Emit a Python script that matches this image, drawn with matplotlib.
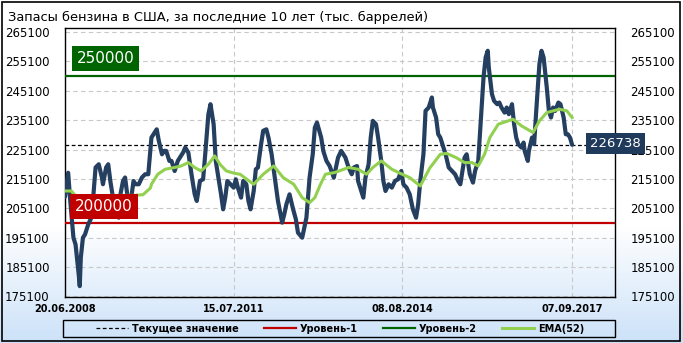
import numpy as np
import matplotlib; matplotlib.use('Agg')
import matplotlib.pyplot as plt
from matplotlib.patches import Rectangle

# ── data (weekly index from 20.06.2008, thousand barrels) ──
start = np.datetime64('2008-06-20')
weeks = [0, 3, 5, 8, 10, 13, 14, 15, 17, 19, 22, 25, 27, 29, 32, 35, 36, 39, 41, 43,
         46, 48, 51, 52, 55, 57, 59, 62, 65, 67, 70, 73, 76, 79, 82, 87, 89, 92, 94, 96,
         99, 101, 104, 107, 110, 112, 114, 117, 120, 123, 125, 128, 131, 133, 136, 138, 141, 143, 145, 148,
         150, 152, 154, 157, 160, 162, 164, 167, 169, 172, 174, 176, 179, 181, 183, 186, 188, 191, 193, 196,
         199, 202, 206, 208, 210, 213, 216, 219, 221, 225, 227, 229, 232, 235, 237, 239, 243, 245, 248, 251,
         255, 257, 259, 262, 264, 266, 269, 272, 274, 277, 278, 281, 283, 285, 288, 290, 292, 295, 297, 300,
         302, 304, 307, 310, 313, 316, 319, 321, 324, 327, 330, 333, 335, 337, 340, 342, 345, 348, 349, 352,
         354, 356, 359, 361, 364, 367, 370, 373, 375, 377, 379, 381, 384, 387, 389, 392, 394, 397, 399, 401,
         402, 405, 407, 410, 412, 414, 417, 419, 421, 424, 426, 428, 430, 433, 435, 436, 439, 440, 443, 445,
         447, 450, 452, 454, 457, 459, 461, 463, 465, 468, 470, 473, 475, 477, 479, 481]
stocks = [209000, 217200, 207600, 195100, 192800, 182600, 178600, 188300, 195100, 196200,
          199600, 201900, 209900, 219000, 220100, 215600, 213300, 219000, 220100, 214400,
          207600, 206500, 201900, 208700, 214400, 215600, 209900, 206500, 214400, 213300,
          213300, 215600, 216700, 216700, 229200, 232000, 228050, 223500, 224650, 224650,
          221240, 221240, 217800, 221240, 222940, 224080, 225780, 224080, 216700, 209900,
          207600, 214400, 215000, 223500, 237100, 240550, 233700, 221240, 216700, 209900,
          204760, 208740, 214400, 213280, 212140, 215000, 212140, 208740, 214400, 213300,
          207600, 204760, 211000, 218400, 219000, 226900, 231500, 232000, 229200, 223500,
          215600, 207600, 200200, 203050, 206460, 209870, 205330, 201350, 196800, 195100,
          198500, 201900, 215600, 223500, 232600, 234300, 229200, 224650, 221240, 219530,
          215550, 219000, 222370, 224650, 223500, 222370, 219000, 216700, 219000, 219500,
          214400, 211000, 208740, 215550, 220100, 229200, 234870, 233740, 229200, 221240,
          214400, 211000, 213280, 212140, 214400, 215000, 217800, 213280, 212140, 209870,
          204760, 201900, 206460, 214400, 223500, 238280, 239420, 242830, 239420, 236010,
          230330, 229200, 225780, 223500, 219000, 217830, 216700, 214400, 213280, 217830,
          222370, 223500, 216700, 213850, 217830, 221240, 232600, 249650, 256460, 258740,
          253060, 243970, 241690, 240550, 241120, 239420, 237700, 239420, 237150, 240550,
          233740, 229200, 226920, 225780, 227490, 224650, 221240, 224650, 229200, 226920,
          238280, 254190, 258740, 256460, 246240, 238280, 236010, 239420, 238280, 241120,
          240550, 236010, 230330, 230330, 229200, 226738]

ema_weeks = [0, 6, 11, 43, 65, 74, 81, 82, 88, 95, 104, 110, 117, 123, 129, 136, 142, 147, 153, 161,
             166, 179, 188, 198, 207, 217, 225, 232, 237, 242, 247, 256, 269, 278, 286, 292, 300, 310, 318, 327,
             337, 346, 356, 362, 371, 379, 386, 392, 398, 403, 411, 425, 433, 444, 450, 457, 469, 476, 481]
ema_vals = [211000, 211000, 209000, 209500, 209500, 209740, 212000, 213280, 216700, 218400,
            219000, 219500, 220670, 219000, 217830, 220100, 222940, 220100, 217830, 217000,
            216700, 213280, 216700, 219530, 215550, 213280, 208740, 207030, 208740, 213000,
            216700, 217300, 219000, 218400, 216700, 219000, 221240, 218400, 217000, 215550,
            212710, 218800, 223500, 223800, 222370, 220670, 220670, 219530, 223500, 229200,
            233740, 235440, 233170, 230900, 234870, 237700, 238840, 238300, 236010]

level_1 = 200000
level_2 = 250000
current = 226738
yticks = list(range(175100, 265101, 10000))
xtick_labels = ['20.06.2008', '15.07.2011', '08.08.2014', '07.09.2017']

dates = start + np.array(weeks) * np.timedelta64(7, 'D')
ema_dates = start + np.array(ema_weeks) * np.timedelta64(7, 'D')
xtick_dates = [np.datetime64('-'.join(s.split('.')[::-1])) for s in xtick_labels]

W, H = 683, 343
fig = plt.figure(figsize=(W / 100, H / 100), dpi=100)

# background gradient (white -> light blue towards the bottom)
bg = fig.add_axes([0, 0, 1, 1], zorder=-10)
rows = np.linspace(0, 1, H)
t = np.clip((rows - 0.66) / 0.34, 0, 1)[:, None]
top_c = np.array([1.0, 1.0, 1.0])
bot_c = np.array([0.80, 0.885, 0.975])
grad = (top_c * (1 - t) + bot_c * t)[:, None, :].repeat(2, axis=1)
bg.imshow(grad, aspect='auto', extent=[0, 1, 0, 1], origin='upper')
bg.add_patch(Rectangle((0.003, 0.006), 0.993, 0.988, fill=False, ec='black', lw=1.2,
                       transform=bg.transAxes))
# legend frame
bg.add_patch(Rectangle((63 / W, 1 - 337 / H), 552 / W, 17 / H, fill=False, ec='black', lw=1.0,
                       transform=bg.transAxes))
bg.set_xlim(0, 1); bg.set_ylim(0, 1)
bg.axis('off')

ax = fig.add_axes([65 / W, 1 - 297 / H, 550 / W, 269 / H])
ax.patch.set_alpha(0)

ax.plot(dates, stocks, color='#243f60', lw=3.0, solid_capstyle='round', solid_joinstyle='round', zorder=4)
ax.plot(ema_dates, ema_vals, color='#92d050', lw=2.2, zorder=5, label='EMA(52)')
ax.axhline(current, color='black', lw=0.9, ls=(0, (3, 2)), zorder=3, label='Текущее значение')
ax.axhline(level_1, color='#c00000', lw=1.6, zorder=3, label='Уровень-1')
ax.axhline(level_2, color='#006400', lw=1.6, zorder=3, label='Уровень-2')

ax.set_xlim(np.datetime64('2008-06-20'), np.datetime64('2018-06-20'))
ax.set_ylim(174900, 266500)
ax.set_yticks(yticks)
ax.set_xticks(xtick_dates)
ax.set_xticklabels(xtick_labels, fontsize=7, fontweight='bold')
ax.tick_params(axis='x', length=0, pad=5)
ax.tick_params(axis='y', length=0, pad=11, labelsize=8.5, labelright=True, labelleft=True)
ax.grid(True, color='#c8c8c8', ls=(0, (4, 3)), lw=0.8)
for s in ax.spines.values():
    s.set_color('black'); s.set_linewidth(1.0)

# level labels
ax.text(0.021, level_2 + 6000, f'{level_2}', transform=ax.get_yaxis_transform(), fontsize=11,
        color='white', va='center', ha='left', zorder=6,
        bbox=dict(boxstyle='square,pad=0.32', fc='#006400', ec='none'))
ax.text(0.018, level_1 + 5650, f'{level_1}', transform=ax.get_yaxis_transform(), fontsize=11,
        color='white', va='center', ha='left', zorder=6,
        bbox=dict(boxstyle='square,pad=0.32', fc='#c00000', ec='none'))
ax.text(0.955, current + 300, f'{current}', transform=ax.get_yaxis_transform(), fontsize=9.5,
        color='white', va='center', ha='left', zorder=10, clip_on=False,
        bbox=dict(boxstyle='square,pad=0.3', fc='#1f3a5a', ec='none'))

h, l = ax.get_legend_handles_labels()
order = [l.index(n) for n in ['Текущее значение', 'Уровень-1', 'Уровень-2', 'EMA(52)']]
leg = ax.legend([h[i] for i in order], [l[i] for i in order], ncol=4, loc='center',
                bbox_to_anchor=(0.5, -0.1175), prop={'size': 7, 'weight': 'bold'},
                frameon=False, handlelength=3.3, handletextpad=0.4, columnspacing=2.6,
                borderpad=0, borderaxespad=0)

fig.text(8 / W, 1 - 17 / H, 'Запасы бензина в США, за последние 10 лет (тыс. баррелей)',
         fontsize=9.4, va='center', ha='left')

fig.savefig('out.png', dpi=100)
